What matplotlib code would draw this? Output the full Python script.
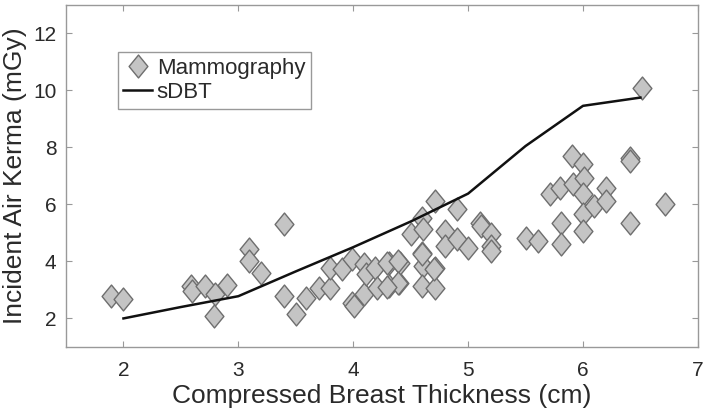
import matplotlib
matplotlib.use("Agg")
import matplotlib.pyplot as plt
from matplotlib.path import Path

plt.rcParams['font.family'] = ['Liberation Sans', 'DejaVu Sans']

# Mammography scatter data (thickness cm, air kerma mGy)
mammo_x = [1.89, 2.00, 2.59, 2.60, 2.71, 2.80, 2.79, 2.90, 3.09, 3.09, 3.20, 3.40,
           3.40, 3.50, 3.59, 3.70, 3.80, 3.80, 3.90, 3.99, 3.99, 4.01, 4.09, 4.09,
           4.11, 4.19, 4.21, 4.31, 4.31, 4.40, 4.41, 4.50, 4.60, 4.61, 4.60, 4.61,
           4.60, 4.71, 4.71, 4.71, 4.80, 4.80, 4.90, 4.90, 5.00, 5.10, 5.11, 5.20,
           5.20, 5.20, 5.50, 5.61, 5.71, 5.80, 5.81, 5.81, 5.90, 5.91, 6.00, 6.01,
           6.00, 6.00, 6.00, 6.10, 6.20, 6.20, 6.41, 6.41, 6.41, 6.51, 6.71,
           4.60, 4.70, 4.29, 4.39, 4.39, 4.29]
mammo_y = [2.78, 2.67, 3.14, 2.96, 3.14, 2.84, 2.08, 3.19, 4.42, 4.01, 3.60, 5.30,
           2.78, 2.14, 2.73, 3.08, 3.08, 3.78, 3.72, 4.07, 2.55, 2.43, 2.84, 3.90,
           3.55, 3.78, 3.08, 3.96, 3.14, 3.25, 3.96, 4.95, 5.54, 5.13, 4.31, 3.84,
           3.14, 6.12, 3.78, 3.08, 5.07, 4.54, 5.83, 4.78, 4.48, 5.36, 5.24, 4.95,
           4.54, 4.37, 4.83, 4.72, 6.36, 6.59, 5.36, 4.60, 7.70, 6.71, 7.41, 6.94,
           6.36, 5.65, 5.07, 5.95, 6.59, 6.12, 7.64, 7.53, 5.36, 10.08, 6.00,
           4.26, 3.74, 3.95, 4.00, 3.26, 3.12]

# sDBT curve
sdbt_x = [2.0, 2.5, 3.0, 3.5, 4.0, 4.5, 5.0, 5.5, 6.0, 6.5]
sdbt_y = [2.0, 2.4, 2.78, 3.65, 4.5, 5.4, 6.38, 8.05, 9.46, 9.75]

xticks = [2, 3, 4, 5, 6, 7]
yticks = [2, 4, 6, 8, 10, 12]

# MATLAB-like diamond (slightly taller than wide)
diamond = Path([(0, 1), (0.82, 0), (0, -1), (-0.82, 0), (0, 1)],
               [Path.MOVETO, Path.LINETO, Path.LINETO, Path.LINETO, Path.CLOSEPOLY])

fig = plt.figure(figsize=(7.06, 4.13), dpi=100)
ax = fig.add_axes([0.0935, 0.160, 0.895, 0.828])

ax.plot(mammo_x, mammo_y, linestyle='none', marker=diamond, markersize=16.5,
        markerfacecolor='#c4c4c4', markeredgecolor='#6e6e6e', markeredgewidth=1.0,
        label='Mammography', zorder=2)
ax.plot(sdbt_x, sdbt_y, color='#111111', linewidth=1.8, label='sDBT', zorder=3)

ax.set_xlim(1.5, 7)
ax.set_ylim(1, 13)
ax.set_xticks(xticks)
ax.set_yticks(yticks)

for s in ax.spines.values():
    s.set_color('#999999')
    s.set_linewidth(1.0)
ax.tick_params(direction='in', length=4, width=0.8, color='#999999',
               top=True, right=True, labelsize=15, labelcolor='#2a2a2a')
ax.tick_params(axis='x', pad=10)
ax.tick_params(axis='y', pad=7)

ax.set_xlabel('Compressed Breast Thickness (cm)', fontsize=19, color='#2a2a2a', labelpad=3)
ax.set_ylabel('Incident Air Kerma (mGy)', fontsize=19, color='#2a2a2a', labelpad=4)

leg = ax.legend(loc='upper left', bbox_to_anchor=(0.082, 0.862), fontsize=16,
                frameon=True, fancybox=False, edgecolor='#999999', framealpha=1,
                handlelength=1.3, handletextpad=0.2, borderpad=0.25, labelspacing=0.15,
                borderaxespad=0)
leg.get_frame().set_linewidth(1.0)
for t in leg.get_texts():
    t.set_color('#2a2a2a')

fig.savefig('out.png', dpi=100)
